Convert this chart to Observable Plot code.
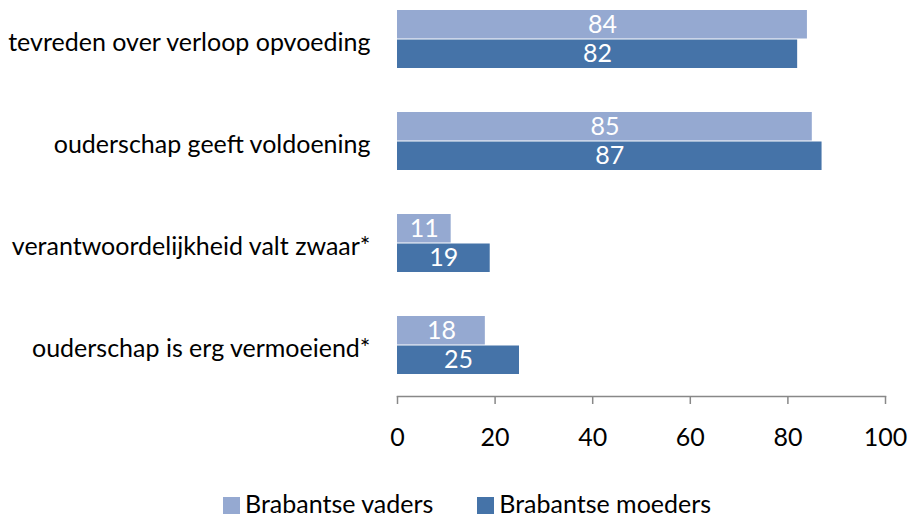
<!DOCTYPE html>
<html>
<head>
<meta charset="utf-8">
<script src="https://cdn.jsdelivr.net/npm/d3@7"></script>
<script src="https://cdn.jsdelivr.net/npm/@observablehq/plot@0.6"></script>
<style>
  html, body { margin: 0; padding: 0; background: #fff; }
  body { width: 913px; height: 517px; position: relative; overflow: hidden; font-family: Lato, "Open Sans", sans-serif; }
  #chart svg { display: block; }
  #legend { position: absolute; left: 223px; top: 491px; display: flex; align-items: center; font-size: 25px; line-height: 25px; color: #000; white-space: nowrap; }
  #legend .item { display: flex; align-items: center; margin-right: 44px; }
  #legend .sw { width: 17px; height: 17px; margin-right: 5px; margin-top: 4px; }
</style>
</head>
<body>
<div id="chart"></div>
<div id="legend"></div>
<script>
const categories = [
  "tevreden over verloop opvoeding",
  "ouderschap geeft voldoening",
  "verantwoordelijkheid valt zwaar*",
  "ouderschap is erg vermoeiend*"
];
const series = ["Brabantse vaders", "Brabantse moeders"];
const vaders = [84, 85, 11, 18];
const moeders = [82, 87, 19, 25];
const xTicks = [0, 20, 40, 60, 80, 100];
const colors = ["#95a9d1", "#4573a8"];

const dataV = categories.map((c, i) => ({category: c, series: series[0], value: vaders[i]}));
const dataM = categories.map((c, i) => ({category: c, series: series[1], value: moeders[i]}));

const plot = Plot.plot({
  width: 913,
  height: 470,
  marginLeft: 397,
  marginRight: 28,
  marginTop: 0,
  marginBottom: 74,
  insetTop: -12,
  style: {fontFamily: "Lato, 'Open Sans', sans-serif", background: "#fff", overflow: "visible"},
  x: {domain: [0, 100], axis: null},
  y: {domain: categories, paddingInner: 0.43, paddingOuter: 0.215, axis: null},
  color: {domain: series, range: colors},
  marks: [
    Plot.barX(dataV, {x: "value", y: "category", fill: "series", insetBottom: 29.5}),
    Plot.barX(dataM, {x: "value", y: "category", fill: "series", insetTop: 29.5}),
    Plot.text(dataV, {x: d => d.value / 2, y: "category", text: d => String(d.value), dy: -14.5, fill: "white", fontSize: 25}),
    Plot.text(dataM, {x: d => d.value / 2, y: "category", text: d => String(d.value), dy: 14.5, fill: "white", fontSize: 25}),
    Plot.frame({anchor: "bottom", stroke: "#888", strokeWidth: 1.5}),
    Plot.axisX(xTicks, {label: null, tickSize: 8, tickPadding: 24, stroke: "#888", strokeWidth: 1.5, fill: "#000", fontSize: 25}),
    Plot.axisY({label: null, tickSize: 0, tickPadding: 27, fill: "#000", fontSize: 25, dy: 3})
  ]
});
document.getElementById("chart").appendChild(plot);

const legend = document.getElementById("legend");
series.forEach((s, i) => {
  const item = document.createElement("div");
  item.className = "item";
  const sw = document.createElement("div");
  sw.className = "sw";
  sw.style.background = colors[i];
  const label = document.createElement("span");
  label.textContent = s;
  item.appendChild(sw);
  item.appendChild(label);
  legend.appendChild(item);
});
</script>
</body>
</html>
